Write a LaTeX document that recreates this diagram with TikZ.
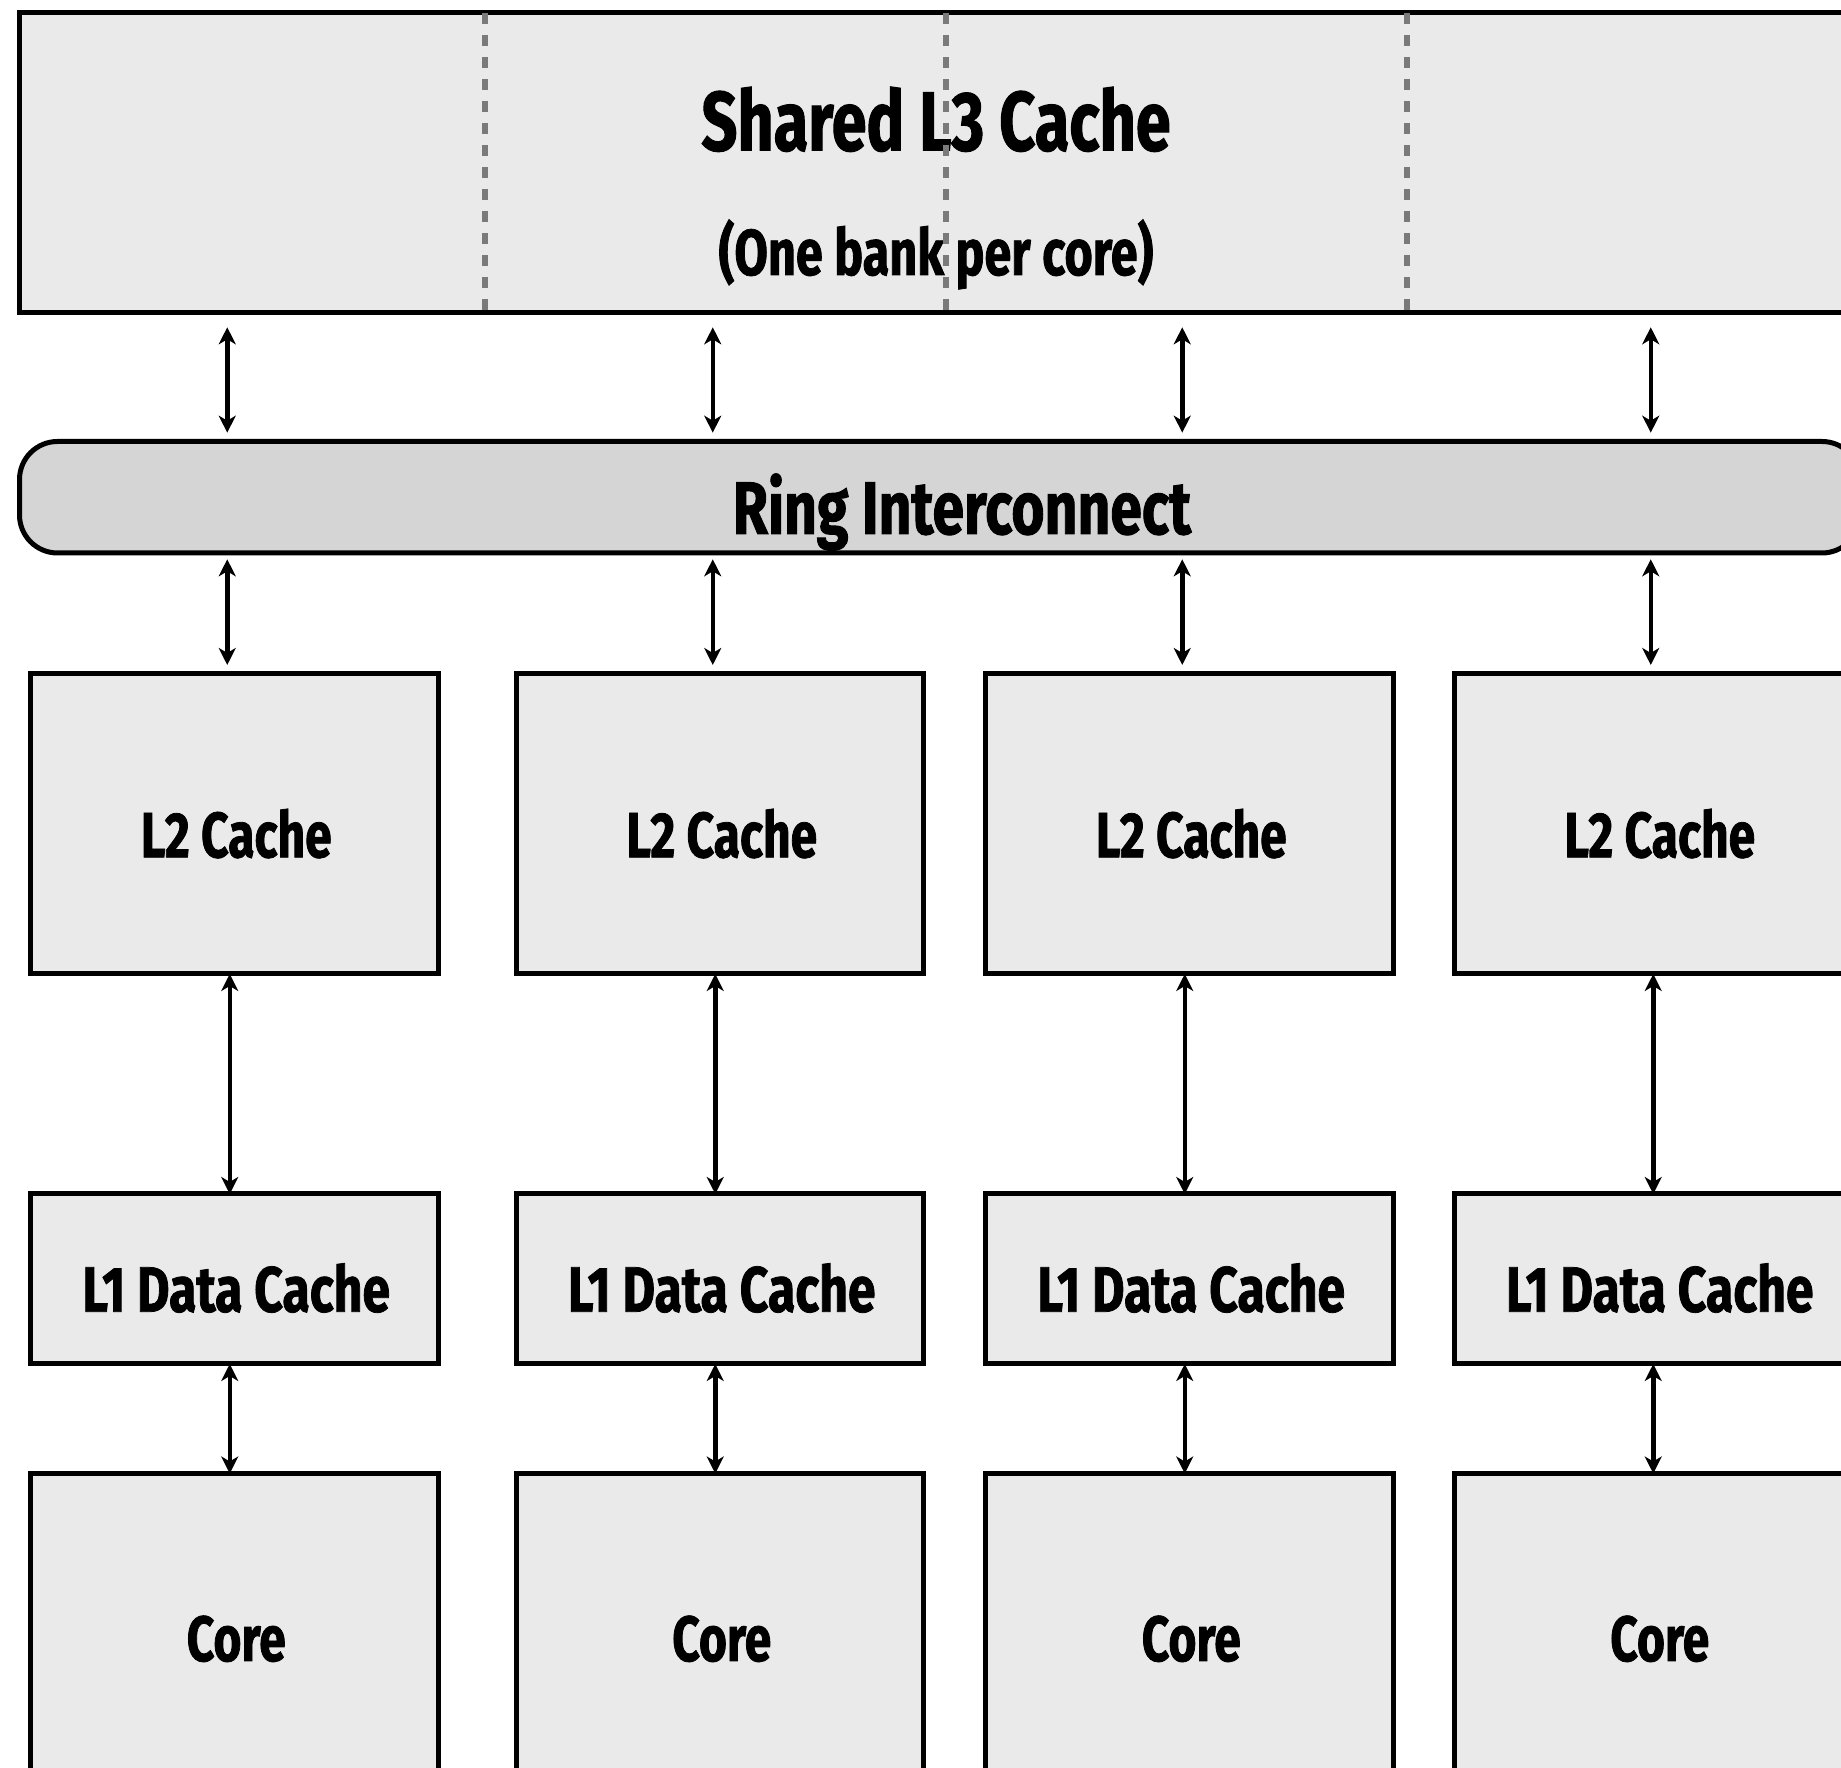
\documentclass[tikz,border=0pt]{standalone}
\usepackage{fontspec}
\setmainfont{Fira Sans}[FakeStretch=0.75, BoldFeatures={FakeBold=1.2}]
\usetikzlibrary{arrows.meta}
\definecolor{boxfill}{HTML}{EAEAEA}
\definecolor{ringfill}{HTML}{D5D5D5}
\definecolor{dashgray}{HTML}{7A7A7A}
\begin{document}
\begin{tikzpicture}[
  box/.style={draw=black, line width=0.05cm, fill=boxfill, inner sep=0pt, outer sep=0pt},
  ringbox/.style={draw=black, line width=0.05cm, fill=ringfill, rounded corners=0.38cm, inner sep=0pt, outer sep=0pt},
  bank/.style={draw=dashgray, line width=0.055cm, dash pattern=on 0.11cm off 0.11cm},
  arr/.style={line width=0.045cm, {Stealth[length=0.17cm,width=0.17cm,inset=0.05cm]}-{Stealth[length=0.17cm,width=0.17cm,inset=0.05cm]}},
  lbl/.style={anchor=base, inner sep=0pt, font=\bfseries\fontsize{18.2}{20}\selectfont},
  wlbl/.style={anchor=base, inner sep=0pt, font=\bfseries\fontsize{18.2}{20}\selectfont\addfontfeature{FakeStretch=0.78}},
  title/.style={anchor=base, inner sep=0pt, font=\bfseries\fontsize{23.9}{26}\selectfont},
  subtitle/.style={anchor=base, inner sep=0pt, font=\bfseries\fontsize{18.4}{20}\selectfont},
  ringlbl/.style={anchor=base, inner sep=0pt, font=\bfseries\fontsize{21.2}{23}\selectfont\addfontfeature{FakeStretch=0.765}},
]
\useasboundingbox (0,0) rectangle (18.41,-17.68);

% Shared L3 cache
\node[box, minimum width=18.485cm, minimum height=3.00cm] (l3) at (9.4375,-1.63) {};
\node[title] (l3title) at (9.36,-1.505) {Shared L3 Cache};
\node[subtitle] (l3sub) at (9.36,-2.75) {(One bank per core)};
\foreach \j/\x in {1/4.85,2/9.46,3/14.07} {
  \coordinate (bk\j) at (\x,0);
  \draw[bank] (l3.north -| bk\j) -- (l3.south -| bk\j);
}

% Ring interconnect
\node[ringbox, minimum width=18.405cm, minimum height=1.115cm] (ring) at (9.3975,-4.9725) {};
\node[ringlbl] (ringt) at (9.62,-5.34) {Ring Interconnect};

% Columns
\foreach \i/\x in {1/2.3425,2/7.1975,3/11.8925,4/16.5775} {
  \node[box, minimum width=4.075cm, minimum height=3.007cm] (l2-\i) at (\x,-8.2365) {};
  \node[lbl] (l2t-\i) at (\x+0.02,-8.573) {L2 Cache};
  \node[box, minimum width=4.075cm, minimum height=1.70cm] (l1-\i) at (\x,-12.79) {};
  \node[wlbl] (l1t-\i) at (\x+0.02,-13.117) {L1 Data Cache};
  \node[box, minimum width=4.075cm, minimum height=3.12cm] (core-\i) at (\x,-16.295) {};
  \node[lbl] (coret-\i) at (\x+0.02,-16.61) {Core};
  \coordinate (ta-\i) at (\x-0.07,0);
  \coordinate (la-\i) at (\x-0.045,0);
  \draw[arr, shorten <=0.143cm, shorten >=0.088cm] (l3.south -| ta-\i) -- (ring.north -| ta-\i);
  \draw[arr, shorten <=0.063cm, shorten >=0.083cm] (ring.south -| ta-\i) -- (l2-\i.north -| ta-\i);
  \draw[arr] (l2-\i.south -| la-\i) -- (l1-\i.north -| la-\i);
  \draw[arr] (l1-\i.south -| la-\i) -- (core-\i.north -| la-\i);
}
\end{tikzpicture}
\end{document}
